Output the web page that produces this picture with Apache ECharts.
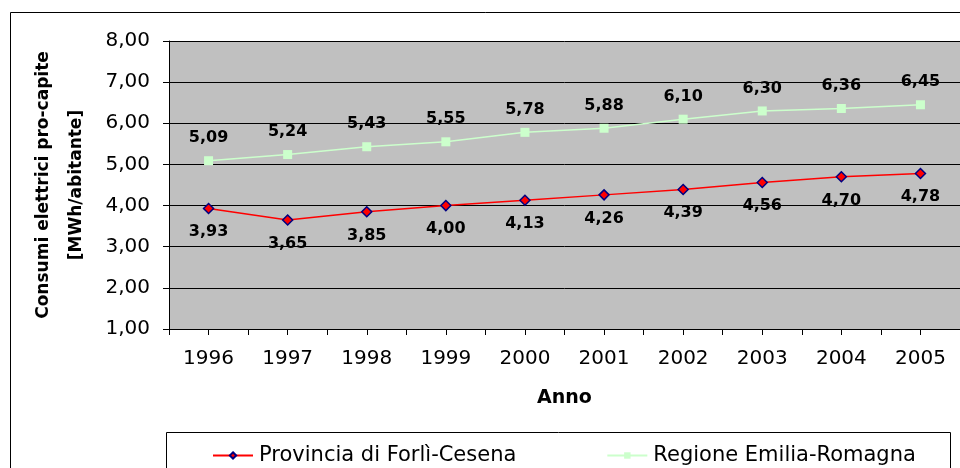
<!DOCTYPE html>
<html>
<head>
<meta charset="utf-8">
<script src="https://cdn.jsdelivr.net/npm/echarts@6/dist/echarts.min.js"></script>
<style>
  html, body { margin: 0; padding: 0; background: #fff; }
  #chart { width: 960px; height: 468px; }
</style>
</head>
<body>
<div id="chart"></div>
<script>
// dati
const anni = ['1996', '1997', '1998', '1999', '2000', '2001', '2002', '2003', '2004', '2005']
const provincia = [3.93, 3.65, 3.85, 4.00, 4.13, 4.26, 4.39, 4.56, 4.70, 4.78]
const regione = [5.09, 5.24, 5.43, 5.55, 5.78, 5.88, 6.10, 6.30, 6.36, 6.45]
const nomiSerie = ['Provincia di Forlì-Cesena', 'Regione Emilia-Romagna']

const font = 'DejaVu Sans, Liberation Sans, sans-serif'
const fmt = v => v.toFixed(2).replace('.', ',')

const chart = echarts.init(document.getElementById('chart'))

const option = {
  animation: false,
  textStyle: { fontFamily: font },
  graphic: [
    // bordo esterno dell'area grafico
    { type: 'rect', left: 8, top: 10, shape: { width: 1000, height: 500 },
      style: { fill: 'none', stroke: '#000', lineWidth: 1 }, z: -10 },
    // riquadro legenda
    { type: 'rect', left: 166, top: 432, shape: { width: 784, height: 60 },
      style: { fill: '#fff', stroke: '#000', lineWidth: 1 }, z: -5 }
  ],
  grid: {
    left: 169, top: 41, width: 792, height: 288,
    show: true, backgroundColor: '#c0c0c0', borderWidth: 0
  },
  legend: {
    left: 207, top: 440,
    itemWidth: 40, itemHeight: 8, itemGap: 90,
    textStyle: { fontFamily: font, fontSize: 21, color: '#000', padding: [0, 0, 0, 1] },
    data: nomiSerie
  },
  xAxis: [
    {
      type: 'category',
      data: anni,
      boundaryGap: true,
      name: 'Anno',
      nameLocation: 'middle',
      nameGap: 69,
      nameTextStyle: { fontFamily: font, fontSize: 19, fontWeight: 'bold', color: '#000', verticalAlign: 'middle' },
      axisLine: { lineStyle: { color: '#000', width: 1 } },
      axisTick: { show: true, length: 6, lineStyle: { color: '#000' } },
      axisLabel: { fontFamily: font, fontSize: 20, color: '#000', margin: 20 }
    },
    {
      // tacche intermedie centrate sulle categorie
      type: 'category',
      data: anni,
      position: 'bottom',
      boundaryGap: true,
      axisLine: { show: false },
      axisTick: { show: true, alignWithLabel: true, length: 6, lineStyle: { color: '#000' } },
      axisLabel: { show: false }
    }
  ],
  yAxis: {
    type: 'value',
    min: 1, max: 8, interval: 1,
    name: 'Consumi elettrici pro-capite\n[MWh/abitante]',
    nameLocation: 'middle',
    nameGap: 109,
    nameTextStyle: { fontFamily: font, fontSize: 17, fontWeight: 'bold', color: '#000',
      lineHeight: 33, align: 'center', verticalAlign: 'middle' },
    axisLine: { show: true, lineStyle: { color: '#000', width: 1 } },
    axisTick: { show: true, length: 6, lineStyle: { color: '#000' } },
    axisLabel: { fontFamily: font, fontSize: 20, color: '#000', margin: 19, formatter: fmt },
    splitLine: { lineStyle: { color: '#000', width: 1 } }
  },
  series: [
    {
      name: nomiSerie[0],
      type: 'line',
      data: provincia,
      symbol: 'diamond',
      symbolSize: 10,
      lineStyle: { color: '#ff0000', width: 1.5 },
      itemStyle: { color: '#ff0000', borderColor: '#000080', borderWidth: 1.5 },
      label: {
        show: true, position: 'bottom', distance: 10,
        fontFamily: font, fontSize: 16, fontWeight: 'bold', color: '#000',
        formatter: p => fmt(p.value)
      }
    },
    {
      name: nomiSerie[1],
      type: 'line',
      data: regione,
      symbol: 'rect',
      symbolSize: 9,
      lineStyle: { color: '#ccffcc', width: 1.5 },
      itemStyle: { color: '#ccffcc', borderColor: '#ccffcc', borderWidth: 0 },
      label: {
        show: true, position: 'top', distance: 10,
        fontFamily: font, fontSize: 16, fontWeight: 'bold', color: '#000',
        formatter: p => fmt(p.value)
      }
    }
  ]
}

chart.setOption(option)
</script>
</body>
</html>
